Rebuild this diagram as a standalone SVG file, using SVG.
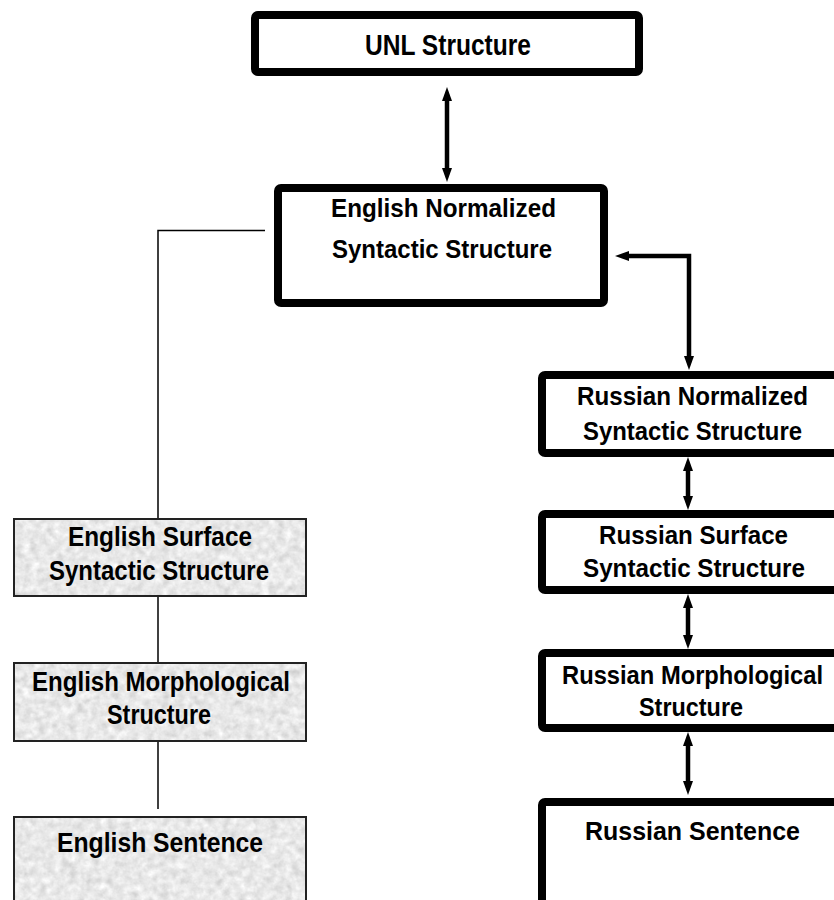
<svg xmlns="http://www.w3.org/2000/svg" width="834" height="900" viewBox="0 0 834 900">
<style>
.thick{fill:#fff;stroke:#000;stroke-width:8;}
.tex{fill:#000;filter:url(#paper);}
.thin{fill:none;stroke:#222;stroke-width:2;}
.lbl{font-family:"Liberation Sans Narrow","Liberation Sans",Arial,sans-serif;font-weight:bold;font-size:26px;fill:#000;}
.big{font-size:30px;}
.gl{font-size:28px;}
.arr{fill:none;stroke:#000;stroke-width:4.5;marker-start:url(#ah);marker-end:url(#ah);}
.ln{fill:none;stroke:#000;stroke-width:1.5;}
</style>
<defs>
<marker id="ah" viewBox="0 0 14 10" refX="4" refY="5" markerWidth="14" markerHeight="10" markerUnits="userSpaceOnUse" orient="auto-start-reverse">
<path d="M0,0 L14,5 L0,10 z" fill="#000"/>
</marker>
<filter id="paper" x="0" y="0" width="1" height="1" color-interpolation-filters="sRGB">
<feTurbulence type="fractalNoise" baseFrequency="0.13" numOctaves="3" seed="4"/>
<feColorMatrix type="matrix" values="0.12 0.12 0.12 0 0.73  0.12 0.12 0.12 0 0.73  0.12 0.12 0.12 0 0.73  0 0 0 0 1"/>
</filter>
</defs>
<rect width="834" height="900" fill="#fff"/>

<g id="connectors">
<line class="arr" x1="447" y1="97" x2="447" y2="172"/>
<path class="arr" d="M625,256 L689,256 L689,360"/>
<line class="arr" x1="688" y1="467" x2="688" y2="500"/>
<line class="arr" x1="688" y1="604" x2="688" y2="639"/>
<line class="arr" x1="688" y1="742" x2="688" y2="785"/>
<polyline class="ln" points="265,230.5 158,230.5 158,519"/>
<line class="ln" x1="158" y1="596" x2="158" y2="663"/>
<line class="ln" x1="158" y1="741" x2="158" y2="809"/>
</g>

<g id="unl">
<rect class="thick" x="255" y="15" width="384" height="57" rx="3"/>
<text class="lbl big" x="365" y="55" textLength="166" lengthAdjust="spacingAndGlyphs">UNL Structure</text>
</g>

<g id="en-norm">
<rect class="thick" x="278" y="188" width="326" height="115" rx="3"/>
<text class="lbl" x="331" y="217" textLength="225" lengthAdjust="spacingAndGlyphs">English Normalized</text>
<text class="lbl" x="332" y="258" textLength="220" lengthAdjust="spacingAndGlyphs">Syntactic Structure</text>
</g>

<g id="ru-norm">
<rect class="thick" x="542" y="375" width="300" height="78" rx="3"/>
<text class="lbl" x="577" y="405" textLength="231" lengthAdjust="spacingAndGlyphs">Russian Normalized</text>
<text class="lbl" x="583" y="440" textLength="219" lengthAdjust="spacingAndGlyphs">Syntactic Structure</text>
</g>

<g id="ru-surface">
<rect class="thick" x="542" y="514" width="300" height="76" rx="3"/>
<text class="lbl" x="599" y="544" textLength="189" lengthAdjust="spacingAndGlyphs">Russian Surface</text>
<text class="lbl" x="583" y="577" textLength="222" lengthAdjust="spacingAndGlyphs">Syntactic Structure</text>
</g>

<g id="ru-morph">
<rect class="thick" x="542" y="653" width="300" height="75" rx="3"/>
<text class="lbl" x="562" y="684" textLength="261" lengthAdjust="spacingAndGlyphs">Russian Morphological</text>
<text class="lbl" x="639" y="716" textLength="104" lengthAdjust="spacingAndGlyphs">Structure</text>
</g>

<g id="ru-sentence">
<rect class="thick" x="542" y="802" width="300" height="200" rx="3"/>
<text class="lbl" x="585" y="840" textLength="215" lengthAdjust="spacingAndGlyphs">Russian Sentence</text>
</g>

<g id="en-surface">
<rect class="tex" x="14" y="519" width="292" height="77"/>
<rect class="thin" x="14" y="519" width="292" height="77"/>
<text class="lbl gl" x="68" y="546" textLength="184" lengthAdjust="spacingAndGlyphs">English Surface</text>
<text class="lbl gl" x="49" y="580" textLength="220" lengthAdjust="spacingAndGlyphs">Syntactic Structure</text>
</g>

<g id="en-morph">
<rect class="tex" x="14" y="663" width="292" height="78"/>
<rect class="thin" x="14" y="663" width="292" height="78"/>
<text class="lbl gl" x="32" y="691" textLength="258" lengthAdjust="spacingAndGlyphs">English Morphological</text>
<text class="lbl gl" x="107" y="724" textLength="104" lengthAdjust="spacingAndGlyphs">Structure</text>
</g>

<g id="en-sentence">
<rect class="tex" x="14" y="817" width="292" height="100"/>
<rect class="thin" x="14" y="817" width="292" height="100"/>
<text class="lbl gl" x="57" y="852" textLength="206" lengthAdjust="spacingAndGlyphs">English Sentence</text>
</g>
</svg>
